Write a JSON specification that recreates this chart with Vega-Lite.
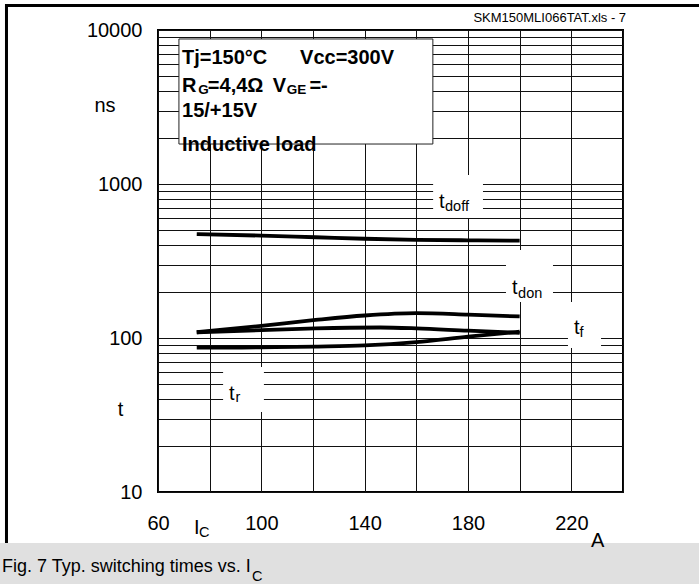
{
 "$schema": "https://vega.github.io/schema/vega-lite/v6.json",
 "width": 465,
 "height": 462,
 "autosize": {"type": "none"},
 "padding": {"left": 158, "top": 30, "right": 76, "bottom": 92},
 "background": "white",
 "config": {"view": {"stroke": "black", "strokeWidth": 2}, "font": "Liberation Sans"},
 "encoding": {
  "x": {"field": "I", "type": "quantitative",
   "scale": {"domain": [60, 240], "nice": false, "zero": false},
   "axis": {"values": [60, 80, 100, 120, 140, 160, 180, 200, 220, 240],
    "labelExpr": "datum.value == 60 || datum.value == 100 || datum.value == 140 || datum.value == 180 || datum.value == 220 ? datum.label : ''",
    "title": null, "grid": true, "gridColor": "#111", "gridWidth": 1, "ticks": false, "domain": false,
    "labelFont": "Liberation Sans", "labelFontSize": 20, "labelColor": "black", "labelPadding": 21,
    "labelOverlap": false, "labelFlush": false}},
  "y": {"field": "t", "type": "quantitative",
   "scale": {"type": "log", "domain": [10, 10000], "nice": false},
   "axis": {"values": [10, 20, 30, 40, 50, 60, 70, 80, 90, 100, 200, 300, 400, 500, 600, 700, 800, 900, 1000, 2000, 3000, 4000, 5000, 6000, 7000, 8000, 9000, 10000],
    "format": "d",
    "labelExpr": "datum.value == 10 || datum.value == 100 || datum.value == 1000 || datum.value == 10000 ? datum.label : ''",
    "title": null, "grid": true, "gridColor": "#111", "gridWidth": 1, "ticks": false, "domain": false,
    "labelFont": "Liberation Sans", "labelFontSize": 20, "labelColor": "black", "labelPadding": 16,
    "labelOverlap": false, "labelFlush": false}}
 },
 "layer": [
  {
   "data": {"values": [{"I": -5, "I2": 275, "t": 2.3, "t2": 4.665}]},
   "mark": {"type": "rect", "fill": "#e0e0e0", "stroke": null},
   "encoding": {"x2": {"field": "I2"}, "y2": {"field": "t2"}}
  },
  {
   "data": {"values": [{"I": 0.77, "I2": 275, "t": 14423}]},
   "mark": {"type": "rule", "color": "black", "strokeWidth": 3},
   "encoding": {"x2": {"field": "I2"}}
  },
  {
   "data": {"values": [{"I": 1.35, "t": 4.665, "t2": 14751}]},
   "mark": {"type": "rule", "color": "black", "strokeWidth": 3},
   "encoding": {"y2": {"field": "t2"}}
  },
  {
   "data": {"values": [
    {"I": 166.5, "I2": 185.8, "t": 601, "t2": 1144},
    {"I": 194.7, "I2": 212.9, "t": 171.3, "t2": 372.7},
    {"I": 218.7, "I2": 231.5, "t": 86.1, "t2": 171.3},
    {"I": 85.2, "I2": 101.0, "t": 33.1, "t2": 64.8}
   ]},
   "mark": {"type": "rect", "fill": "white", "stroke": null},
   "encoding": {"x2": {"field": "I2"}, "y2": {"field": "t2"}}
  },
  {
   "data": {"values": [{"I": 68.1, "I2": 166.4, "t": 1818, "t2": 8744}]},
   "mark": {"type": "rect", "fill": "white", "stroke": "#222", "strokeWidth": 1},
   "encoding": {"x2": {"field": "I2"}, "y2": {"field": "t2"}}
  },
  {
   "data": {"values": [
    {"s": "tdoff", "I": 75, "t": 473}, {"s": "tdoff", "I": 100, "t": 462}, {"s": "tdoff", "I": 121, "t": 451}, {"s": "tdoff", "I": 140, "t": 441}, {"s": "tdoff", "I": 160, "t": 434}, {"s": "tdoff", "I": 180, "t": 431}, {"s": "tdoff", "I": 200, "t": 429},
    {"s": "tdon", "I": 75, "t": 109}, {"s": "tdon", "I": 100, "t": 120}, {"s": "tdon", "I": 121, "t": 131}, {"s": "tdon", "I": 140, "t": 140}, {"s": "tdon", "I": 160, "t": 145}, {"s": "tdon", "I": 180, "t": 142}, {"s": "tdon", "I": 200, "t": 138},
    {"s": "tf", "I": 75, "t": 109}, {"s": "tf", "I": 100, "t": 112.5}, {"s": "tf", "I": 121, "t": 115.5}, {"s": "tf", "I": 146, "t": 117}, {"s": "tf", "I": 160, "t": 115.5}, {"s": "tf", "I": 180, "t": 111.5}, {"s": "tf", "I": 200, "t": 108},
    {"s": "tr", "I": 75, "t": 86.5}, {"s": "tr", "I": 100, "t": 87}, {"s": "tr", "I": 121, "t": 88}, {"s": "tr", "I": 140, "t": 89.5}, {"s": "tr", "I": 160, "t": 94}, {"s": "tr", "I": 180, "t": 102}, {"s": "tr", "I": 200, "t": 110}
   ]},
   "mark": {"type": "line", "color": "black", "strokeWidth": 3.8, "interpolate": "monotone"},
   "encoding": {"detail": {"field": "s"}}
  },
  {
   "data": {"values": [
    {"I": 69.3, "t": 6579, "txt": "Tj=150°C"},
    {"I": 115.0, "t": 6579, "txt": "Vcc=300V"},
    {"I": 69.3, "t": 4329, "txt": "R"},
    {"I": 79.3, "t": 4329, "txt": "=4,4Ω"},
    {"I": 104.4, "t": 4329, "txt": "V"},
    {"I": 118.6, "t": 4329, "txt": "=-"},
    {"I": 69.3, "t": 3001, "txt": "15/+15V"},
    {"I": 69.3, "t": 1780, "txt": "Inductive load"}
   ]},
   "mark": {"type": "text", "align": "left", "font": "Liberation Sans", "fontWeight": "bold", "fontSize": 20, "color": "black"},
   "encoding": {"text": {"field": "txt"}}
  },
  {
   "data": {"values": [
    {"I": 75.6, "t": 4078, "txt": "G"},
    {"I": 109.8, "t": 4078, "txt": "GE"}
   ]},
   "mark": {"type": "text", "align": "left", "font": "Liberation Sans", "fontWeight": "bold", "fontSize": 13.5, "color": "black"},
   "encoding": {"text": {"field": "txt"}}
  },
  {
   "data": {"values": [
    {"I": 168.8, "t": 764, "txt": "t"},
    {"I": 197.0, "t": 211, "txt": "t"},
    {"I": 221.0, "t": 116, "txt": "t"},
    {"I": 87.5, "t": 43.3, "txt": "t"},
    {"I": 73.9, "t": 5.84, "txt": "I"},
    {"I": 227.6, "t": 4.8, "txt": "A"}
   ]},
   "mark": {"type": "text", "align": "left", "font": "Liberation Sans", "fontSize": 20, "color": "black"},
   "encoding": {"text": {"field": "txt"}}
  },
  {
   "data": {"values": [
    {"I": 39.5, "t": 3210, "txt": "ns"},
    {"I": 45.5, "t": 34.1, "txt": "t"}
   ]},
   "mark": {"type": "text", "align": "center", "font": "Liberation Sans", "fontSize": 20, "color": "black"},
   "encoding": {"text": {"field": "txt"}}
  },
  {
   "data": {"values": [
    {"I": 171.1, "t": 709, "txt": "doff"},
    {"I": 199.4, "t": 193, "txt": "don"},
    {"I": 223.2, "t": 107.8, "txt": "f"},
    {"I": 90.0, "t": 40.8, "txt": "r"},
    {"I": 75.9, "t": 5.42, "txt": "C"},
    {"I": 96.4, "t": 2.81, "txt": "C"}
   ]},
   "mark": {"type": "text", "align": "left", "font": "Liberation Sans", "fontSize": 14.5, "color": "black"},
   "encoding": {"text": {"field": "txt"}}
  },
  {
   "data": {"values": [{"I": -0.4, "t": 3.26, "txt": "Fig. 7 Typ. switching times vs. I"}]},
   "mark": {"type": "text", "align": "left", "font": "Liberation Sans", "fontSize": 18, "color": "black"},
   "encoding": {"text": {"field": "txt"}}
  },
  {
   "data": {"values": [{"I": 241.2, "t": 11967, "txt": "SKM150MLI066TAT.xls - 7"}]},
   "mark": {"type": "text", "align": "right", "font": "Liberation Sans", "fontSize": 13, "color": "black"},
   "encoding": {"text": {"field": "txt"}}
  }
 ]
}
